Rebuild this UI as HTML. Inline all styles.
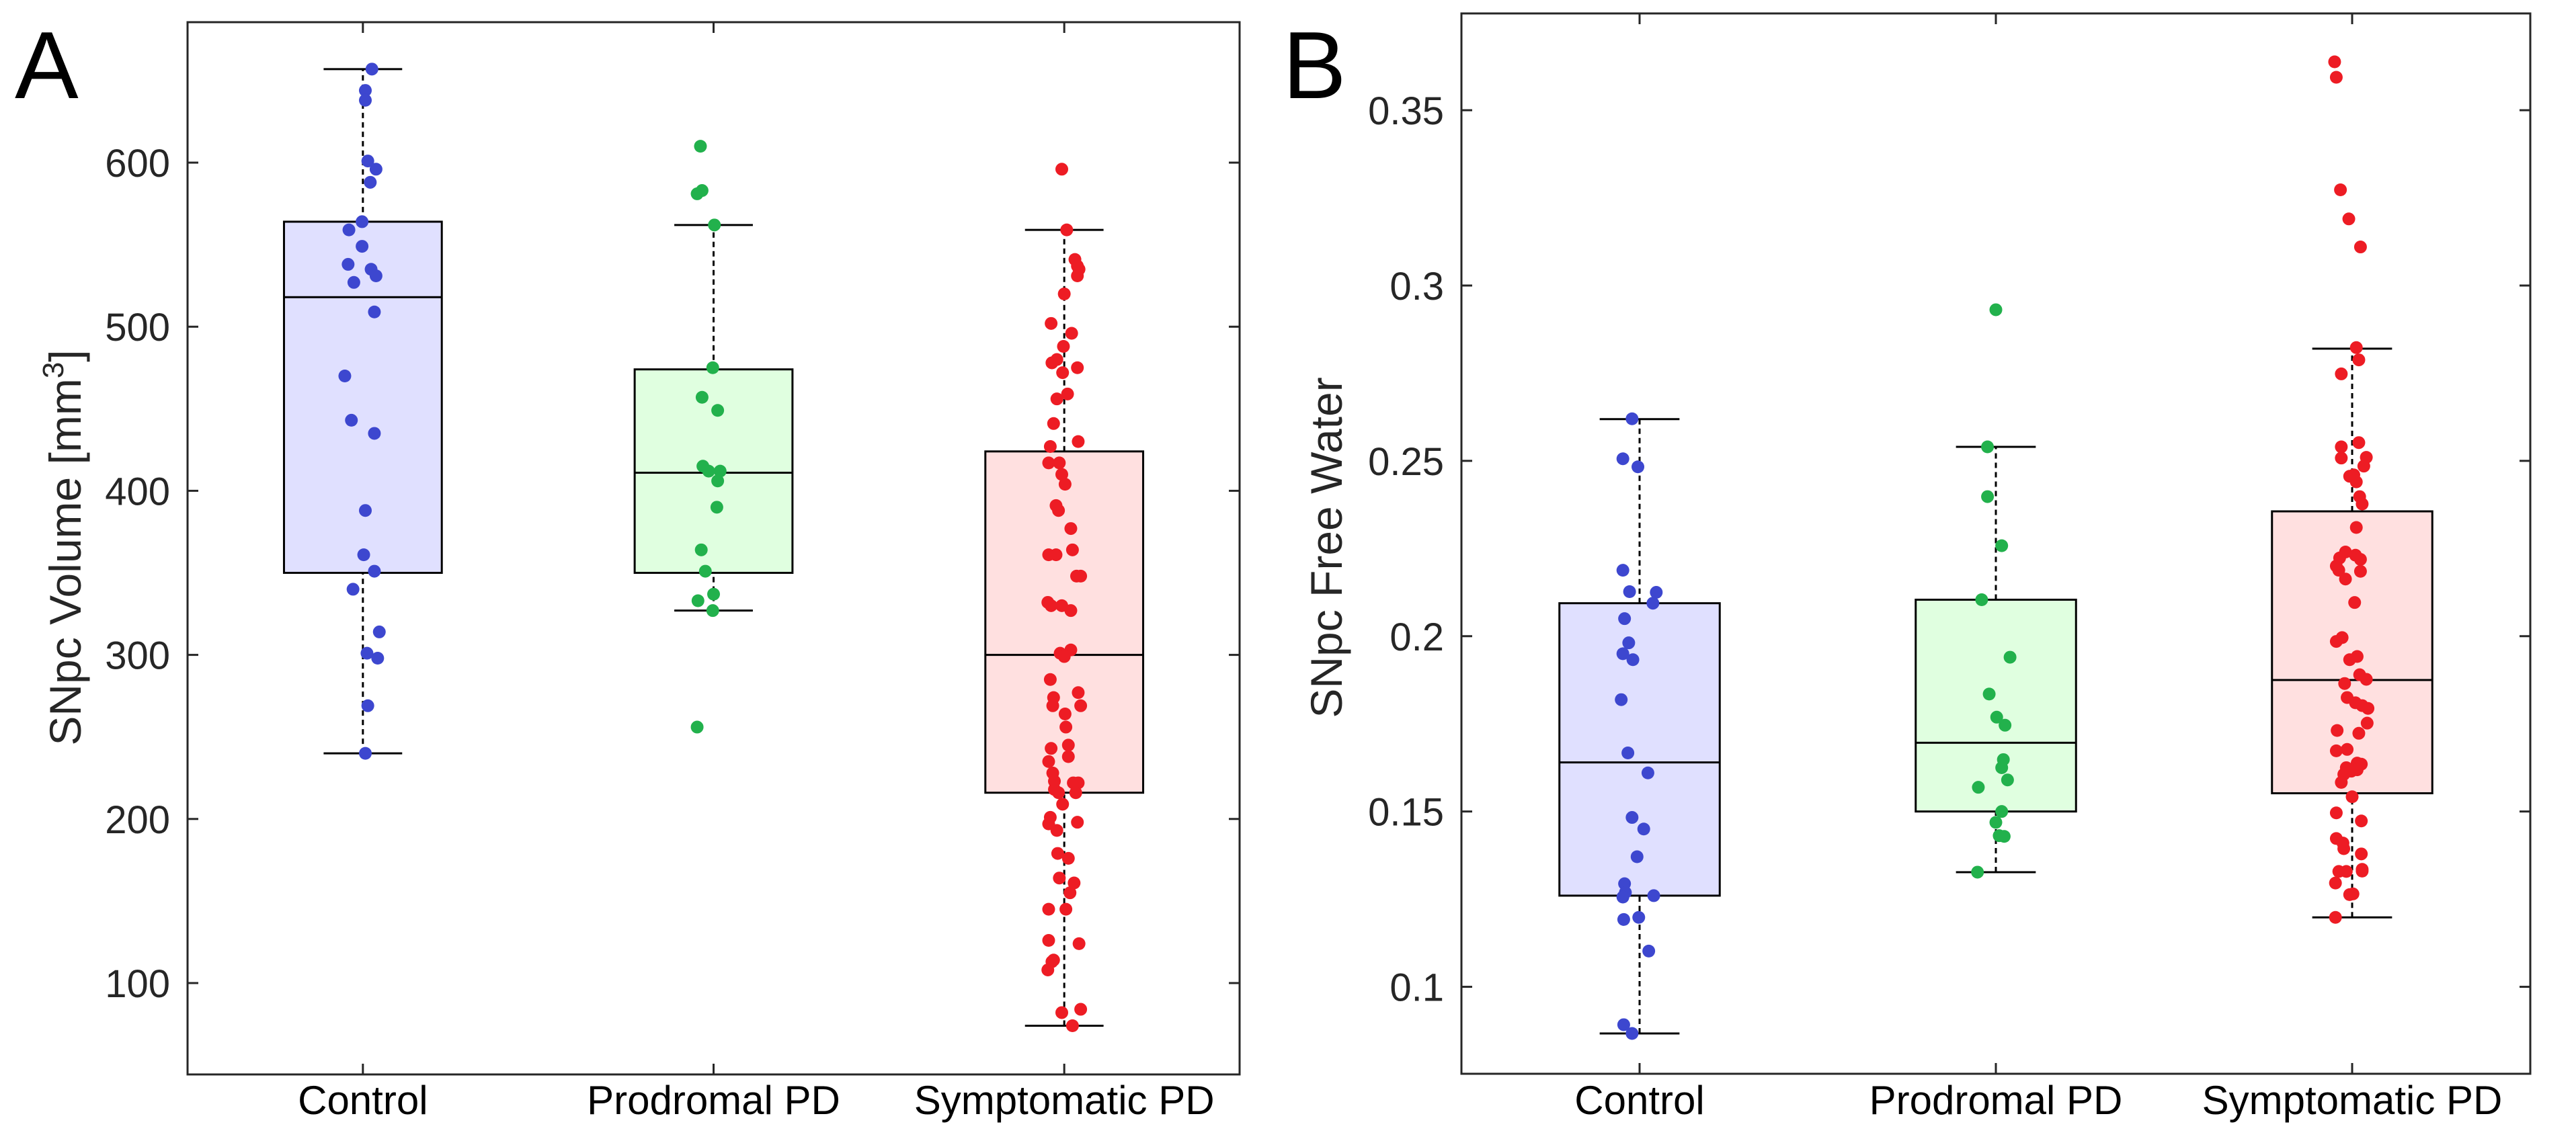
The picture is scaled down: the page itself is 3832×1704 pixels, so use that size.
<!DOCTYPE html>
<html><head><meta charset="utf-8"><style>
html,body{margin:0;padding:0;background:#fff;}
svg{display:block;font-family:"Liberation Sans",sans-serif;}
</style></head><body>
<svg id="fig" width="3832" height="1704" viewBox="0 0 3832 1704" xmlns="http://www.w3.org/2000/svg"></svg>
<script>
const categories = ["Control", "Prodromal PD", "Symptomatic PD"];
const colorsDot = ["#3d47cf", "#22b14c", "#ed1c24"];
const colorsFill = ["#e0e0ff", "#e0ffe0", "#ffe0e0"];
// Panel A stats [whiskerLow, q1, median, q3, whiskerHigh]
const statsA = [[240,350,518,564,657],[327,350,411,474,562],[74,216,300,424,559]];
const ticksA = [100,200,300,400,500,600];
const tickLabelsA = ["100","200","300","400","500","600"];
// points: values and jitter (category units)
const valsA0 = [657,644,638,601,596,588,564,559,549,538,535,531,527,509,470,443,435,388,361,351,340,314,301,298,269,240];
const jitA0 = [11,3,3,6,16,9,-1,-17,-1,-18,10,16,-11,14,-22,-14,14,3,1,14,-12,20,5,18,6,3];
const valsA1 = [610,583,581,562,475,457,449,415,412,412,406,390,364,351,337,333,327,256];
const jitA1 = [-16,-14,-20,1,-1,-14,5,-13,-6,8,5,4,-15,-10,0,-19,-1,-20];
const valsA2 = [596,559,541,537,535,531,520,502,496,488,480,478,472,475,459,456,441,430,427,417,417,410,404,391,388,377,364,361,361,348,348,332,330,330,327,303,301,299,285,274,269,277,269,264,256,245,243,238,235,228,223,222,222,218,216,216,209,201,197,193,198,179,176,164,161,155,145,145,126,124,114,113,108,82,84,74];
const jitA2 = [-3,3,13,16,18,16,0,-16,9,-1,-9,-15,-2,16,4,-9,-13,17,-17,-19,-6,-3,1,-10,-7,8,10,-19,-10,15,20,-20,-16,-3,8,8,-5,0,-17,-13,-14,17,20,1,2,5,-16,5,-19,-14,-12,11,17,-12,-7,14,-2,-17,-19,-9,16,-8,5,-6,12,7,-19,2,-19,18,-13,-15,-20,-3,20,10];
// Panel B
const statsB = [[0.0867,0.126,0.164,0.2094,0.2619],[0.1327,0.15,0.1696,0.2104,0.254],[0.1198,0.1552,0.1875,0.2356,0.282]];
const ticksB = [0.1,0.15,0.2,0.25,0.3,0.35];
const tickLabelsB = ["0.1","0.15","0.2","0.25","0.3","0.35"];
const valsB0 = [0.262,0.2506,0.2483,0.2188,0.2127,0.2125,0.2094,0.205,0.1981,0.195,0.1933,0.1819,0.1667,0.161,0.1483,0.145,0.1371,0.1294,0.1269,0.1256,0.126,0.1198,0.1192,0.1102,0.0892,0.0867];
const jitB0 = [-9,-20,-2,-20,-12,20,16,-18,-13,-20,-8,-22,-14,10,-9,5,-3,-18,-17,-20,17,-1,-19,11,-19,-9];
const valsB1 = [0.2931,0.254,0.2398,0.2258,0.2104,0.194,0.1835,0.1769,0.1746,0.1648,0.1625,0.1569,0.159,0.15,0.1469,0.1431,0.1429,0.1327];
const jitB1 = [0,-10,-10,7,-17,17,-8,1,11,9,7,-21,14,7,0,4,10,-22];
const valsB2 = [0.3638,0.3594,0.3273,0.319,0.311,0.2823,0.2788,0.2748,0.2552,0.254,0.251,0.2508,0.2485,0.2456,0.244,0.246,0.2398,0.2377,0.231,0.224,0.2231,0.2223,0.2219,0.22,0.2188,0.2185,0.2163,0.2096,0.1996,0.1985,0.1933,0.1942,0.189,0.1877,0.1865,0.1825,0.181,0.1802,0.1794,0.1752,0.1731,0.1723,0.1673,0.1677,0.1638,0.1625,0.1635,0.1615,0.1606,0.1619,0.1583,0.1542,0.1496,0.1473,0.1423,0.141,0.1394,0.1379,0.1329,0.1335,0.1329,0.133,0.1296,0.1265,0.1263,0.1198];
const jitB2 = [-21,-19,-14,-4,10,5,8,-13,8,-13,17,-13,14,-3,5,2,9,12,5,-8,4,-15,10,-19,-16,10,-8,3,-12,-19,-3,6,9,17,-9,-6,4,12,19,18,-18,8,-19,-6,6,-7,11,-1,-10,6,-13,0,-19,11,-19,-11,-10,11,-16,12,-7,12,-20,1,-3,-20];

const NS = "http://www.w3.org/2000/svg";
const svg = document.getElementById("fig");
function mk(tag, attrs, parent){ const e=document.createElementNS(NS,tag); for(const k in attrs) e.setAttribute(k,attrs[k]); (parent||svg).appendChild(e); return e; }

function panel(cfg){
  const g = mk("g",{});
  
  
  const {L,R,T,B,ymin,ymax} = cfg;
  const sx = v => L + (v-0.5)/3*(R-L);
  const sy = v => B - (v-ymin)/(ymax-ymin)*(B-T);
  const unit = (R-L)/3;
  // boxes
  cfg.stats.forEach((s,i)=>{
    const cx = sx(i+1), hw = 0.225*unit, cw = 0.112*unit;
    const wl = mk("line",{x1:cx,x2:cx,y1:sy(s[3]),y2:sy(s[4]),stroke:"#000","stroke-width":3,"stroke-dasharray":"8 6"},g);
    
    
    const wl2 = mk("line",{x1:cx,x2:cx,y1:sy(s[0]),y2:sy(s[1]),stroke:"#000","stroke-width":3,"stroke-dasharray":"8 6"},g);
    
    
    const c1 = mk("line",{x1:cx-cw,x2:cx+cw,y1:sy(s[4]),y2:sy(s[4]),stroke:"#000","stroke-width":3},g);
    
    
    const c2 = mk("line",{x1:cx-cw,x2:cx+cw,y1:sy(s[0]),y2:sy(s[0]),stroke:"#000","stroke-width":3},g);
    
    
    const bx = mk("rect",{x:cx-hw,y:sy(s[3]),width:2*hw,height:sy(s[1])-sy(s[3]),fill:colorsFill[i],stroke:"#000","stroke-width":3},g);
    
    
    const md = mk("line",{x1:cx-hw,x2:cx+hw,y1:sy(s[2]),y2:sy(s[2]),stroke:"#000","stroke-width":3},g);
    
    
  });
  // points
  cfg.vals.forEach((vals,i)=>{
    vals.forEach((v,j)=>{
      const c = mk("circle",{cx:sx(i+1+cfg.jit[i][j]/427),cy:sy(v),r:9.5,fill:colorsDot[i]},g);
      
      
    });
  });
  // axes frame
  const fr = mk("rect",{x:L,y:T,width:R-L,height:B-T,fill:"none",stroke:"#262626","stroke-width":3},g);
  
  
  cfg.ticks.forEach((t,k)=>{
    const y = sy(t);
    mk("line",{x1:L,x2:L+16,y1:y,y2:y,stroke:"#262626","stroke-width":3},g);
    mk("line",{x1:R-16,x2:R,y1:y,y2:y,stroke:"#262626","stroke-width":3},g);
    const tl = mk("text",{x:L-26,y:y+21,"text-anchor":"end","font-size":58,fill:"#262626"},g);
    tl.textContent = cfg.tickLabels[k];
    
    
  });
  categories.forEach((c,i)=>{
    const x = sx(i+1);
    mk("line",{x1:x,x2:x,y1:B,y2:B-16,stroke:"#262626","stroke-width":3},g);
    mk("line",{x1:x,x2:x,y1:T,y2:T+16,stroke:"#262626","stroke-width":3},g);
    const tl = mk("text",{x:x,y:1658,"text-anchor":"middle","font-size":60,fill:"#000"},g);
    tl.textContent = c;
    
    
  });
  const yt = mk("text",{x:0,y:0,"text-anchor":"middle","font-size":66,fill:"#262626",transform:`translate(${cfg.titleX},815) rotate(-90)`},g);
  
  
  if(cfg.sup){
    yt.appendChild(document.createTextNode("SNpc Volume [mm"));
    const ts = mk("tspan",{"font-size":44,dy:-26},yt); ts.textContent="3";
    const ts2 = mk("tspan",{dy:26},yt); ts2.textContent="]";
  } else yt.textContent = cfg.title;
  const pl = mk("text",{x:cfg.letterX,y:146,"font-size":142,fill:"#000"},g);
  pl.textContent = cfg.letter;
  
  
}

panel({name:"panel-a-volume",L:279,R:1844,T:33,B:1599,ymin:44.3,ymax:685.6,stats:statsA,vals:[valsA0,valsA1,valsA2],jit:[jitA0,jitA1,jitA2],ticks:ticksA,tickLabels:tickLabelsA,titleX:120,sup:true,letter:"A",letterX:22});
panel({name:"panel-b-free-water",L:2174,R:3764,T:20,B:1598,ymin:0.0752,ymax:0.3776,stats:statsB,vals:[valsB0,valsB1,valsB2],jit:[jitB0,jitB1,jitB2],ticks:ticksB,tickLabels:tickLabelsB,titleX:1996,sup:false,title:"SNpc Free Water",letter:"B",letterX:1908});
</script>
</body></html>
